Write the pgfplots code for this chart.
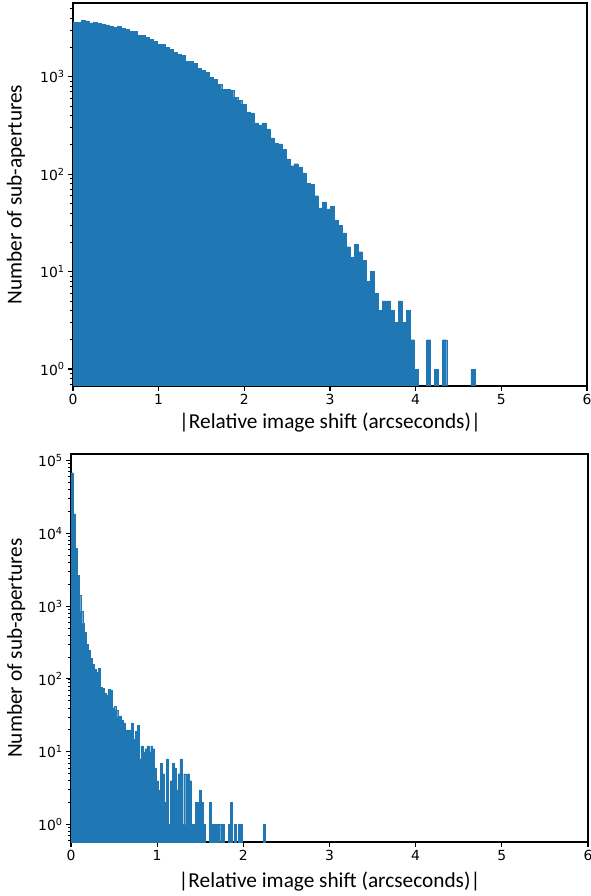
\documentclass[border=0pt]{standalone}
\usepackage{fontspec}
\setmainfont{Carlito}
\newfontfamily\dejavu{DejaVu Sans}
\usepackage{pgfplots}
\usepackage{pgfplotstable}
\pgfplotsset{compat=1.18}
\definecolor{c0}{HTML}{1F77B4}

% bin index and count, zero-count bins left out
\pgfplotstableread{
k n
0 3620
1 3620
2 3800
3 3730
4 3565
5 3620
6 3540
7 3455
8 3400
9 3320
10 3220
11 3300
12 3140
13 3070
14 2930
15 2930
16 2670
17 2670
18 2540
19 2425
20 2310
21 2155
22 2155
23 2010
24 1915
25 1785
26 1700
27 1665
28 1445
29 1445
30 1378
31 1225
32 1167
33 1113
34 991
35 945
36 840
37 746
38 746
39 729
40 618
41 576
42 524
43 434
44 424
45 335
46 320
47 335
48 291
49 235
50 209
51 204
52 181
53 143
54 122
55 128
56 119
57 103
58 80
59 78
60 60
61 45
62 52
63 44
64 47
65 34
66 30
67 25
68 18
69 14
70 19
71 16
72 13
73 8
74 10
75 6
76 4
77 5
78 5
79 4
80 3
81 5
82 3
83 4
84 2
85 1
88 2
90 1
92 2
99 1
}\toph

\pgfplotstableread{
k n
0 68000
1 18600
2 6170
3 2630
4 1400
5 844
6 577
7 434
8 297
9 246
10 191
11 158
12 135
13 123
14 139
15 77
16 74
17 63
18 59
19 72
20 70
21 40
22 42
23 37
24 30
25 31
26 27
27 25
28 20
29 20
30 20
31 25
32 15
33 19
34 23
35 8
36 12
37 10
38 11
39 12
40 10
41 12
42 11
43 6
44 4
45 3
46 7
47 5
48 2
49 8
50 1
51 4
52 7
53 6
54 3
55 5
56 8
57 1
58 5
59 1
60 5
61 4
62 1
63 1
64 2
65 2
66 3
67 2
68 1
71 2
72 1
73 1
74 1
75 1
76 1
78 1
81 1
82 2
84 1
86 1
87 1
99 1
}\both

\begin{document}
\begin{tikzpicture}
\useasboundingbox (0,0) rectangle (591pt,896pt);

\begin{axis}[scale only axis, anchor=south west,
  at={(73pt,510pt)}, width=514pt, height=383pt,
  ymode=log, log basis y=10, log origin y=infty,
  xmin=0, xmax=6, xtick={0,...,6},
  ymin=0.67, ymax=5700,
  tick align=outside, tick pos=left,
  major tick length=4.9pt, minor tick length=2.8pt,
  major tick style={black, line width=1.1pt},
  minor tick style={black, line width=0.8pt},
  axis line style={line width=1.1pt},
  /pgf/number format/assume math mode=true,
  tick label style={font=\dejavu\fontsize{13.9}{16}\selectfont},
  yticklabel={10\textsuperscript{\pgfmathparse{int(round(\tick))}\pgfmathresult}},
  xlabel={|Relative image shift (arcseconds)|},
  ylabel={Number of sub-apertures},
  every axis x label/.style={at={(axis description cs:0.5,-0.095)}, anchor=center,
    font=\fontsize{21.3}{25}\selectfont},
  every axis y label/.style={at={(axis description cs:-0.111,0.5)}, rotate=90, anchor=center,
    font=\fontsize{21.3}{25}\selectfont}]
\addplot[ybar, bar width=0.0469, bar shift=0pt, fill=c0, draw=c0, line width=0.3pt]
  table[x expr={(\thisrow{k}+0.5)*0.0469}, y=n] {\toph};
\end{axis}

\begin{axis}[scale only axis, anchor=south west,
  at={(71pt,54pt)}, width=517pt, height=388pt,
  ymode=log, log basis y=10, log origin y=infty,
  xmin=0, xmax=6, xtick={0,...,6},
  ymin=0.576, ymax=1.23e5,
  tick align=outside, tick pos=left,
  major tick length=4.9pt, minor tick length=2.8pt,
  major tick style={black, line width=1.1pt},
  minor tick style={black, line width=0.8pt},
  axis line style={line width=1.1pt},
  /pgf/number format/assume math mode=true,
  tick label style={font=\dejavu\fontsize{13.9}{16}\selectfont},
  yticklabel={10\textsuperscript{\pgfmathparse{int(round(\tick))}\pgfmathresult}},
  xlabel={|Relative image shift (arcseconds)|},
  ylabel={Number of sub-apertures},
  every axis x label/.style={at={(axis description cs:0.5,-0.101)}, anchor=center,
    font=\fontsize{21.3}{25}\selectfont},
  every axis y label/.style={at={(axis description cs:-0.106,0.5)}, rotate=90, anchor=center,
    font=\fontsize{21.3}{25}\selectfont}]
\addplot[ybar, bar width=0.02256, bar shift=0pt, fill=c0, draw=c0, line width=0.3pt]
  table[x expr={(\thisrow{k}+0.5)*0.02256}, y=n] {\both};
\end{axis}
\end{tikzpicture}
\end{document}
